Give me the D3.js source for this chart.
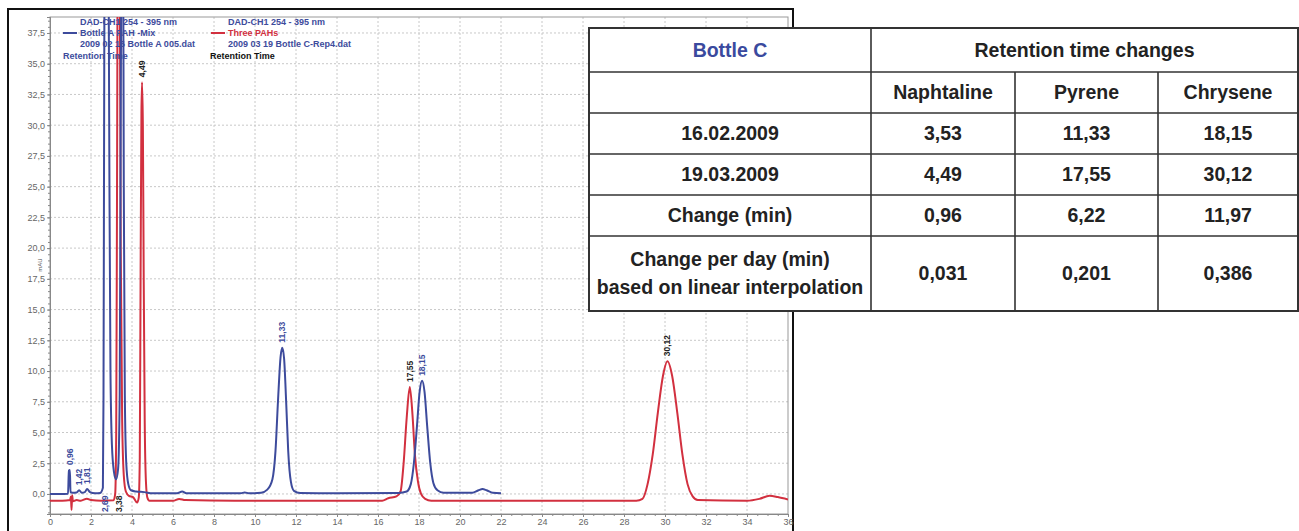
<!DOCTYPE html>
<html>
<head>
<meta charset="utf-8">
<script src="https://cdn.jsdelivr.net/npm/d3@7"></script>
<style>
  body { margin: 0; background: #fff; }
  svg { display: block; }
  .tick text { font-family: "Liberation Sans Narrow", "Liberation Sans", Arial, sans-serif; }
</style>
</head>
<body>
<script>
// chromatogram traces: [retention time (min), signal (mAU)]
var bottleA = [[0,0.0],[0.5,0.0],[0.88,0.02],[0.92,1.9],[0.97,1.95],[1.0,0.15],[1.1,0.1],[1.3,0.12],[1.42,0.3],
  [1.55,0.1],[1.7,0.15],[1.81,0.4],[1.95,0.15],[2.2,0.05],[2.45,0.08],[2.58,0.5],[2.61,8],[2.64,30],[2.68,55],
  [2.76,62],[2.84,50],[2.9,25],[2.95,10],[3.02,4],[3.12,1.8],[3.22,1.2],[3.32,2.0],[3.4,8],[3.45,30],[3.5,50],
  [3.56,48],[3.6,25],[3.65,8],[3.72,2.5],[3.82,0.8],[3.95,0.3],[4.2,0.2],[4.6,0.15],[5.0,0.05],[6.2,0.05],
  [6.45,0.2],[6.65,0.05],[9.3,0.05],[9.5,0.12],[9.7,0.05],[10.3,0.1],[10.6,0.35],[10.85,1.2],[11.0,3.5],
  [11.12,7.5],[11.25,11.2],[11.33,11.9],[11.42,11],[11.52,7.5],[11.62,3.5],[11.75,1.0],[11.9,0.25],[12.2,0.08],
  [14,0.05],[17.0,0.08],[17.4,0.2],[17.6,0.8],[17.75,2.5],[17.9,5.5],[18.03,8.3],[18.15,9.2],[18.27,8.3],
  [18.4,5.5],[18.55,2.5],[18.7,0.9],[18.9,0.3],[19.2,0.1],[20.6,0.1],[20.9,0.3],[21.1,0.4],[21.3,0.3],
  [21.6,0.1],[22.0,0.05]];

var bottleC = [[0,-0.55],[0.6,-0.55],[0.98,-0.5],[1.02,-0.2],[1.05,-1.3],[1.08,-0.1],[1.12,-0.6],[1.3,-0.5],
  [1.5,-0.55],[1.8,-0.38],[2.0,-0.5],[2.5,-0.55],[3.1,-0.52],[3.18,0],[3.23,5],[3.27,25],[3.33,58],[3.4,45],
  [3.45,20],[3.52,6],[3.6,1.5],[3.7,0.2],[3.85,-0.15],[4.05,-0.25],[4.25,-0.7],[4.33,-0.3],[4.38,3],[4.42,18],
  [4.46,31],[4.49,33.5],[4.53,30],[4.57,18],[4.62,6],[4.68,1],[4.75,-0.3],[4.85,-0.55],[6.0,-0.55],[6.3,-0.4],
  [6.6,-0.5],[9,-0.55],[16.2,-0.55],[16.5,-0.35],[16.9,-0.2],[17.1,0.2],[17.25,2.5],[17.4,6.2],[17.55,8.7],
  [17.68,6.5],[17.8,3.2],[17.95,1.0],[18.1,0.0],[18.3,-0.4],[18.6,-0.55],[28.6,-0.55],[28.9,-0.4],[29.15,0.8],
  [29.4,3.2],[29.65,6.6],[29.9,9.6],[30.12,10.8],[30.35,9.6],[30.6,6.6],[30.85,3.2],[31.1,0.8],[31.35,-0.2],
  [31.6,-0.5],[34.0,-0.55],[34.6,-0.4],[35.1,-0.15],[35.5,-0.25],[36.0,-0.45]];

// peak annotations
var peakTimes  = [0.96, 1.42, 1.81, 2.69, 3.38, 4.49, 11.33, 17.55, 18.15, 30.12];
var peakText   = ["0,96","1,42","1,81","2,69","3,38","4,49","11,33","17,55","18,15","30,12"];
var peakSeries = ["A","A","A","A","C","C","A","C","A","C"];
var peakBelow  = [false,false,false,true,true,false,false,false,false,false];

var xTickValues = [0,2,4,6,8,10,12,14,16,18,20,22,24,26,28,30,32,34,36];
var yTickValues = [0,2.5,5,7.5,10,12.5,15,17.5,20,22.5,25,27.5,30,32.5,35,37.5];

// table
var tableTitle = "Bottle C";
var tableHeader = "Retention time changes";
var compounds = ["Naphtaline", "Pyrene", "Chrysene"];
var rowLabels = [["16.02.2009"], ["19.03.2009"], ["Change (min)"], ["Change per day (min)", "based on linear interpolation"]];
var naphtaline = ["3,53", "4,49", "0,96", "0,031"];
var pyrene     = ["11,33", "17,55", "6,22", "0,201"];
var chrysene   = ["18,15", "30,12", "11,97", "0,386"];

var blue = "#3d4b9c", red = "#d2303f";

var svg = d3.select("body").append("svg")
            .attr("width", 1299)
            .attr("height", 531);

// outer frame
svg.append("rect")
   .attr("x", 8).attr("y", 9).attr("width", 785).attr("height", 540)
   .attr("fill", "#fff").attr("stroke", "#111").attr("stroke-width", 2);

var x = d3.scaleLinear().domain([0, 36]).range([50, 788]);
var y = d3.scaleLinear().domain([-1.63, 38.8]).range([514, 17]);

var chart = svg.append("g");

// grid
chart.selectAll("line.vgrid")
     .data(xTickValues.slice(1, -1))
     .enter().append("line")
        .attr("x1", function(d){ return x(d); })
        .attr("x2", function(d){ return x(d); })
        .attr("y1", 17).attr("y2", 514)
        .attr("stroke", "#c8c8c8").attr("stroke-dasharray", "2,2");
chart.selectAll("line.hgrid")
     .data(yTickValues)
     .enter().append("line")
        .attr("x1", 50).attr("x2", 788)
        .attr("y1", function(d){ return y(d); })
        .attr("y2", function(d){ return y(d); })
        .attr("stroke", "#c8c8c8").attr("stroke-dasharray", "2,2");

// plot frame
chart.append("rect")
     .attr("x", 50).attr("y", 17).attr("width", 738).attr("height", 497)
     .attr("fill", "none").attr("stroke", "#999").attr("stroke-width", 1);

// axes
var commaFmt = function(d){ return d3.format(".1f")(d).replace(".", ","); };
var yAxis = chart.append("g")
     .attr("transform", "translate(50,0)")
     .call(d3.axisLeft(y).tickValues(yTickValues).tickFormat(commaFmt).tickSize(3).tickPadding(2));
var yMinor = chart.append("g")
     .attr("transform", "translate(50,0)")
     .call(d3.axisLeft(y).tickValues(d3.range(-1.5, 38.6, 0.5)).tickFormat("").tickSize(2));
var xAxis = chart.append("g")
     .attr("transform", "translate(0,514)")
     .call(d3.axisBottom(x).tickValues(xTickValues).tickFormat(d3.format("d")).tickSize(3).tickPadding(2));
var xMinor = chart.append("g")
     .attr("transform", "translate(0,514)")
     .call(d3.axisBottom(x).tickValues(d3.range(0, 36.1, 0.5)).tickFormat("").tickSize(2));

[yAxis, yMinor, xAxis, xMinor].forEach(function(a){
  a.select(".domain").attr("stroke", "#888");
  a.selectAll(".tick line").attr("stroke", "#888");
  a.selectAll(".tick text").attr("fill", "#666").attr("font-size", 9);
});

chart.append("text")
     .attr("transform", "translate(42,265) rotate(-90)")
     .attr("text-anchor", "middle")
     .attr("font-family", "Liberation Sans, Arial, sans-serif")
     .attr("font-size", 6).attr("fill", "#555")
     .text("mAU");

// traces
svg.append("clipPath").attr("id", "plotclip")
   .append("rect").attr("x", 50).attr("y", 17).attr("width", 738).attr("height", 497);

var line = d3.line()
             .x(function(d){ return x(d[0]); })
             .y(function(d){ return y(d[1]); })
             .curve(d3.curveMonotoneX);

var traces = chart.append("g").attr("clip-path", "url(#plotclip)");
traces.append("path").attr("d", line(bottleC))
      .attr("fill", "none").attr("stroke", red).attr("stroke-width", 2);
traces.append("path").attr("d", line(bottleA))
      .attr("fill", "none").attr("stroke", blue).attr("stroke-width", 2);

// peak labels
var seriesData = { A: bottleA, C: bottleC };
peakTimes.forEach(function(t, i){
  var data = seriesData[peakSeries[i]];
  var top = d3.max(data.filter(function(d){ return Math.abs(d[0] - t) < 0.08; }), function(d){ return d[1]; });
  var py = peakBelow[i] ? y(-1.63) - 2 : Math.max(y(top) - 5, 17);
  chart.append("text")
       .attr("transform", "translate(" + (x(t) + 3) + "," + py + ") rotate(-90)")
       .attr("font-family", "Liberation Sans Narrow, Liberation Sans, Arial, sans-serif")
       .attr("font-size", 8.5).attr("font-weight", "bold")
       .attr("fill", peakSeries[i] === "A" ? blue : "#222")
       .text(peakText[i]);
});

// legend
var legend = chart.append("g")
     .attr("font-family", "Liberation Sans, Arial, sans-serif")
     .attr("font-size", 9).attr("font-weight", "bold");
function legendText(tx, ty, txt, col){
  legend.append("text").attr("x", tx).attr("y", ty).attr("fill", col).text(txt);
}
legendText(80, 25, "DAD-CH1  254 - 395 nm", blue);
legend.append("line").attr("x1", 63).attr("x2", 77).attr("y1", 33).attr("y2", 33).attr("stroke", blue).attr("stroke-width", 2);
legendText(80, 36, "Bottle A PAH -Mix", blue);
legendText(80, 47, "2009 02 16  Bottle A 005.dat", blue);
legendText(63, 59, "Retention Time", blue);
legendText(228, 25, "DAD-CH1  254 - 395 nm", blue);
legend.append("line").attr("x1", 211).attr("x2", 225).attr("y1", 33).attr("y2", 33).attr("stroke", red).attr("stroke-width", 2);
legendText(228, 36, "Three PAHs", red);
legendText(228, 47, "2009 03 19 Bottle C-Rep4.dat", blue);
legendText(210, 59, "Retention Time", "#111");

// table
var colX = [589, 871, 1015, 1158, 1298];
var rowY = [28, 72, 113, 154, 195, 236, 311];
var table = svg.append("g")
     .attr("font-family", "Liberation Sans, Arial, sans-serif")
     .attr("font-size", 19.5).attr("font-weight", "bold")
     .attr("text-anchor", "middle");
table.append("rect")
     .attr("x", colX[0]).attr("y", rowY[0])
     .attr("width", colX[4] - colX[0]).attr("height", rowY[6] - rowY[0])
     .attr("fill", "#fff").attr("stroke", "#333").attr("stroke-width", 2);
rowY.slice(1, -1).forEach(function(ry){
  table.append("line").attr("x1", colX[0]).attr("x2", colX[4]).attr("y1", ry).attr("y2", ry)
       .attr("stroke", "#333").attr("stroke-width", 1.6);
});
table.append("line").attr("x1", colX[1]).attr("x2", colX[1]).attr("y1", rowY[0]).attr("y2", rowY[6])
     .attr("stroke", "#333").attr("stroke-width", 1.6);
[colX[2], colX[3]].forEach(function(cx){
  table.append("line").attr("x1", cx).attr("x2", cx).attr("y1", rowY[1]).attr("y2", rowY[6])
       .attr("stroke", "#333").attr("stroke-width", 1.6);
});
function cellText(cx, cy, txt, col){
  table.append("text").attr("x", cx).attr("y", cy).attr("dy", "0.35em").attr("fill", col || "#222").text(txt);
}
cellText((colX[0] + colX[1]) / 2, (rowY[0] + rowY[1]) / 2, tableTitle, "#3a4a9e");
cellText((colX[1] + colX[4]) / 2, (rowY[0] + rowY[1]) / 2, tableHeader);
compounds.forEach(function(c, j){
  cellText((colX[j + 1] + colX[j + 2]) / 2, (rowY[1] + rowY[2]) / 2, c);
});
var columns = [naphtaline, pyrene, chrysene];
rowLabels.forEach(function(lbl, r){
  var cy = (rowY[r + 2] + rowY[r + 3]) / 2;
  lbl.forEach(function(part, k){
    cellText((colX[0] + colX[1]) / 2, cy + (k - (lbl.length - 1) / 2) * 28, part);
  });
  columns.forEach(function(vals, j){
    cellText((colX[j + 1] + colX[j + 2]) / 2, cy, vals[r]);
  });
});
</script>
</body>
</html>
